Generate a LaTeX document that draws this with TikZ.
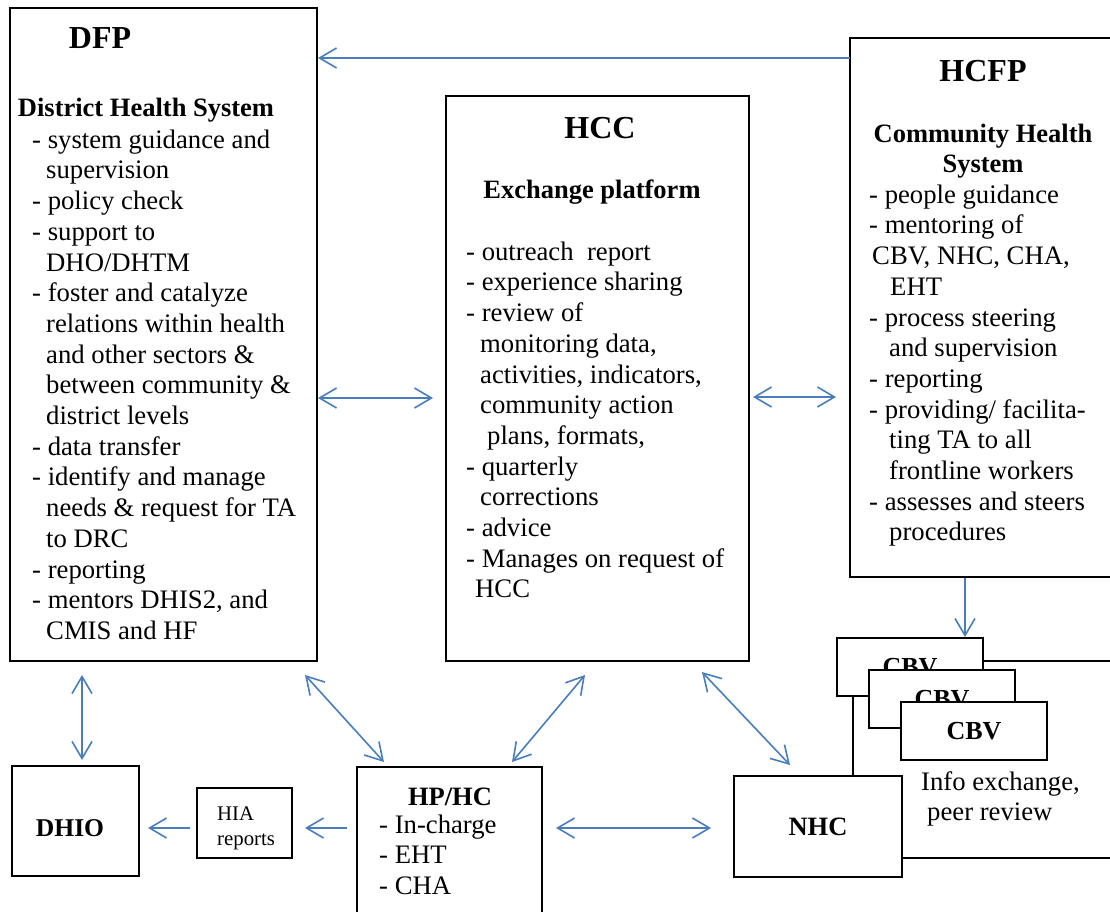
\documentclass[tikz,border=0pt]{standalone}
\usepackage{fontspec}
\setmainfont{Liberation Serif}
\usetikzlibrary{arrows.meta}
\definecolor{arr}{RGB}{74,126,187}
\tikzset{
  box/.style={draw=black, line width=1.6pt, fill=white, inner sep=0pt, outer sep=0pt, anchor=north west},
  body/.style={font=\fontsize{26.7}{30.7}\selectfont, align=left, inner sep=0pt, anchor=north west},
  ttl/.style={font=\fontsize{32}{38}\selectfont\bfseries, inner sep=0pt, anchor=base},
  sub/.style={font=\fontsize{26.5}{30}\selectfont\bfseries, inner sep=0pt, anchor=base, align=center},
  tip/.tip={Straight Barb[length=17pt,width=20pt]},
  conn/.style={draw=arr, line width=1.6pt, -tip},
  dconn/.style={draw=arr, line width=1.6pt, tip-tip},
}
\begin{document}
\begin{tikzpicture}[x=1pt,y=-1pt]
\useasboundingbox (0,0) rectangle (1110,911);
\clip (0,0) rectangle (1110,911);
\fill[white] (0,0) rectangle (1110,911);

% ---- DFP
\node[box, minimum width=307pt, minimum height=653pt] (dfp) at (10,8) {};
\node[ttl] (dfpt) at (100,48) {DFP};
\node[sub] (dfps) at (146,116) {District Health System};
\node[body] (dfpl) at (32,126.5) {\strut- system guidance and\\
\hspace*{14pt}supervision\\
- policy check\\
- support to\\
\hspace*{14pt}DHO/DHTM\\
- foster and catalyze\\
\hspace*{14pt}relations within health\\
\hspace*{14pt}and other sectors \&\\
\hspace*{14pt}between community \&\\
\hspace*{14pt}district levels\\
- data transfer\\
- identify and manage\\
\hspace*{14pt}needs \& request for TA\\
\hspace*{14pt}to DRC\\
- reporting\\
- mentors DHIS2, and\\
\hspace*{14pt}CMIS and HF};

% ---- HCC
\node[box, minimum width=303pt, minimum height=565pt] (hcc) at (446,96) {};
\node[ttl] (hcct) at (600,138) {HCC};
\node[sub] (hccs) at (592,198) {Exchange platform};
\node[body] (hccl) at (466,238.5) {\strut- outreach\ \ report\\
- experience sharing\\
- review of\\
\hspace*{14pt}monitoring data,\\
\hspace*{14pt}activities, indicators,\\
\hspace*{14pt}community action\\
\hspace*{21pt}plans, formats,\\
- quarterly\\
\hspace*{14pt}corrections\\
- advice\\
- Manages on request of\\
\hspace*{9pt}HCC};

% ---- HCFP
\node[box, minimum width=280pt, minimum height=539pt] (hcfp) at (850,38) {};
\node[ttl] (hcfpt) at (983,81) {HCFP};
\node[sub] (hcfps) at (983,172) {Community Health\\System};
\node[body] (hcfpl) at (869,181.5) {\strut- people guidance\\
- mentoring of\\
\hspace*{3pt}CBV, NHC, CHA,\\
\hspace*{21pt}EHT\\
- process steering\\
\hspace*{20pt}and supervision\\
- reporting\\
- providing/ facilita-\\
\hspace*{20pt}ting TA to all\\
\hspace*{20pt}frontline workers\\
- assesses and steers\\
\hspace*{20pt}procedures};

% ---- CBV group
\node[box, minimum width=280pt, minimum height=197pt] (grp) at (853,661) {};
\node[box, minimum width=146pt, minimum height=58pt, anchor=center, font=\fontsize{26}{30}\selectfont\bfseries] (cbv1) at (910,667) {CBV};
\node[box, minimum width=146pt, minimum height=58pt, anchor=center, font=\fontsize{26}{30}\selectfont\bfseries] (cbv2) at (942,699) {CBV};
\node[box, minimum width=146pt, minimum height=58pt, anchor=center, font=\fontsize{26}{30}\selectfont\bfseries] (cbv3) at (974,731) {CBV};
\node[body] (info) at (921,768.5) {\strut Info exchange,\\\hspace*{6pt}peer review};

% ---- NHC
\node[box, minimum width=168pt, minimum height=101pt] (nhc) at (734,776) {};
\node[font=\fontsize{26.5}{30}\selectfont\bfseries, inner sep=0pt] (nhct) at (818,827) {NHC};

% ---- HP/HC
\node[box, minimum width=185pt, minimum height=170pt] (hphc) at (357,767) {};
\node[sub] (hphct) at (450,805) {HP/HC};
\node[body] (hphcl) at (379,811.5) {\strut- In-charge\\- EHT\\- CHA};

% ---- DHIO
\node[box, minimum width=127pt, minimum height=110pt] (dhio) at (12,766) {};
\node[font=\fontsize{25.6}{30}\selectfont\bfseries, inner sep=0pt] (dhiot) at (70,828) {DHIO};

% ---- HIA reports
\node[box, minimum width=95pt, minimum height=70pt] (hia) at (197,788) {};
\node[font=\fontsize{20.8}{25}\selectfont, align=left, inner sep=0pt, anchor=north west] (hiat) at (217,803) {\strut HIA\\reports};

% ---- connectors
\coordinate (e1) at (318,58);
\draw[conn] (hcfp.west |- e1) -- (e1);
\coordinate (d1a) at (318,398); \coordinate (d1b) at (433,398);
\draw[dconn] (d1a) -- (d1b);
\coordinate (d2a) at (753,397); \coordinate (d2b) at (836,397);
\draw[dconn] (d2a) -- (d2b);
\coordinate (s2) at (965,578); \coordinate (e2) at (965,637);
\draw[conn] (s2) -- (e2);
\coordinate (d3a) at (82,675); \coordinate (d3b) at (82,760);
\draw[dconn] (d3a) -- (d3b);
\coordinate (d4a) at (305,675); \coordinate (d4b) at (384,762);
\draw[dconn] (d4a) -- (d4b);
\coordinate (d5a) at (585,675); \coordinate (d5b) at (512,762);
\draw[dconn] (d5a) -- (d5b);
\coordinate (d6a) at (702,672); \coordinate (d6b) at (790,765);
\draw[dconn] (d6a) -- (d6b);
\coordinate (d7a) at (556,828); \coordinate (d7b) at (711,828);
\draw[dconn] (d7a) -- (d7b);
\coordinate (s8) at (347,828); \coordinate (e8) at (305,828);
\draw[conn] (s8) -- (e8);
\coordinate (s9) at (190,828); \coordinate (e9) at (148,828);
\draw[conn] (s9) -- (e9);
\end{tikzpicture}
\end{document}
